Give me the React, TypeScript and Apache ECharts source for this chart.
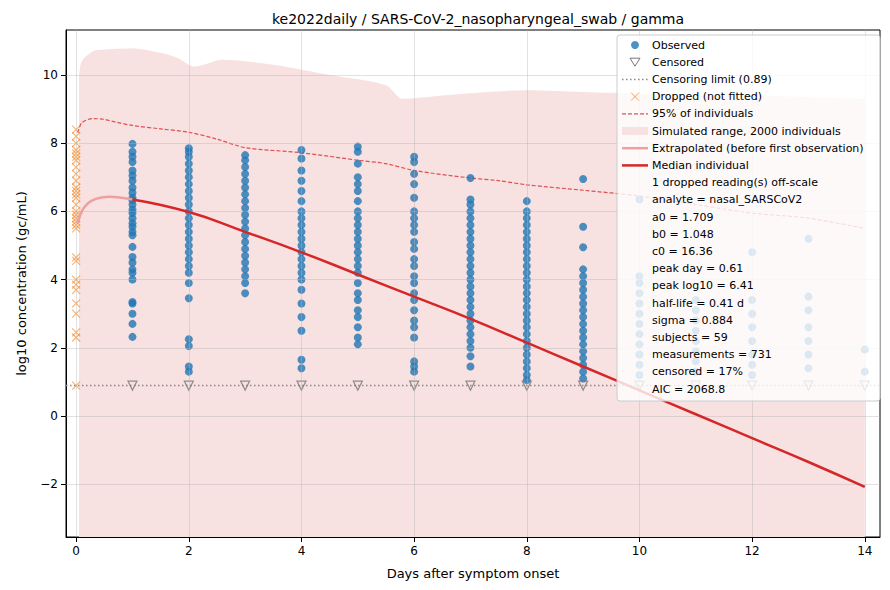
import * as echarts from 'echarts';
import { useEffect, useRef } from 'react';

const title = 'ke2022daily / SARS-CoV-2_nasopharyngeal_swab / gamma';
const censorLimit = 0.89;

const observed: number[][] = [
  [],
  [7.98, 7.75, 7.6, 7.45, 7.2, 7.05, 6.9, 6.7, 6.55, 6.4, 6.33, 6.2, 6.05, 5.95, 5.8, 5.65, 5.55, 5.4, 5.3, 4.96, 4.66, 4.5, 4.3, 4.2, 4.0, 3.34, 3.3, 3.0, 2.7, 2.32],
  [7.85, 7.75, 7.6, 7.4, 7.2, 7.0, 6.8, 6.6, 6.4, 6.2, 6.0, 5.8, 5.6, 5.4, 5.2, 5.0, 4.8, 4.6, 4.4, 4.2, 3.9, 3.45, 2.25, 2.05, 1.45, 1.3],
  [7.65, 7.5, 7.3, 7.1, 6.9, 6.7, 6.5, 6.3, 6.1, 5.9, 5.7, 5.5, 5.3, 5.1, 4.9, 4.7, 4.5, 4.3, 4.1, 3.9, 3.6],
  [7.8, 7.55, 7.2, 6.9, 6.6, 6.3, 6.0, 5.8, 5.6, 5.4, 5.2, 5.0, 4.8, 4.6, 4.4, 4.2, 4.0, 3.7, 3.3, 2.9, 2.5, 1.65, 1.4],
  [7.9, 7.75, 7.4, 7.0, 6.8, 6.6, 6.3, 6.0, 5.8, 5.6, 5.4, 5.2, 5.0, 4.8, 4.6, 4.4, 4.2, 3.9, 3.6, 3.4, 3.1, 2.9, 2.6, 2.3, 2.1],
  [7.6, 7.45, 7.1, 6.8, 6.4, 6.0, 5.8, 5.6, 5.4, 5.1, 4.9, 4.6, 4.4, 4.1, 3.9, 3.6, 3.4, 3.1, 2.8, 2.6, 2.3, 1.6, 1.45, 1.3],
  [6.98, 6.35, 6.2, 6.0, 5.8, 5.6, 5.4, 5.2, 5.0, 4.8, 4.6, 4.4, 4.2, 4.0, 3.8, 3.6, 3.4, 3.2, 3.0, 2.8, 2.6, 2.4, 2.2, 2.0, 1.75, 1.45],
  [6.3, 6.0, 5.8, 5.6, 5.4, 5.2, 5.0, 4.8, 4.6, 4.4, 4.2, 4.0, 3.8, 3.6, 3.4, 3.2, 3.0, 2.8, 2.6, 2.4, 2.2, 2.0, 1.8, 1.6, 1.4, 1.2, 1.05],
  [6.95, 5.55, 4.95, 4.3, 4.1, 3.9, 3.7, 3.5, 3.3, 3.1, 2.9, 2.7, 2.5, 2.3, 2.1, 1.9, 1.7, 1.5, 1.3, 1.1],
  [6.35, 4.1, 3.9, 3.6, 3.3, 3.0, 2.7, 2.4, 2.1, 1.8, 1.5, 1.2],
  [3.4, 3.1, 2.8, 2.5, 2.2, 1.9, 1.6, 1.3],
  [4.8, 3.4, 3.0, 2.6, 2.2, 1.8, 1.5, 1.2],
  [5.2, 3.5, 3.1, 2.6, 2.2, 1.8, 1.4],
  [1.95, 1.3],
];
const censoredDays = [1, 2, 3, 4, 5, 6, 7, 8, 9, 10, 11, 12, 13, 14];
const droppedDay0 = [8.4, 8.2, 8.0, 7.8, 7.7, 7.6, 7.5, 7.3, 7.1, 6.9, 6.7, 6.6, 6.5, 6.4, 6.2, 6.0, 5.9, 5.8, 5.7, 5.6, 5.5, 4.65, 4.55, 4.0, 3.85, 3.7, 3.3, 3.0, 2.45, 2.3, 0.89];

const extrapX = [0.03, 0.1, 0.2, 0.3, 0.45, 0.6, 0.8, 1];
const extrapY = [5.66, 6.0, 6.22, 6.33, 6.41, 6.43, 6.4, 6.35];
const medianX = [1, 2, 3, 4, 5, 6, 7, 8, 9, 10, 11, 12, 13, 14];
const medianY = [6.35, 5.98, 5.4, 4.8, 4.15, 3.5, 2.85, 2.15, 1.45, 0.75, 0.05, -0.65, -1.35, -2.08];
const p95X = [0.03, 0.1, 0.3, 0.5, 0.7, 1, 1.5, 2, 2.5, 3, 4, 5, 5.5, 6, 7, 7.5, 8, 9, 10, 11, 12, 13, 14];
const p95Y = [8.3, 8.6, 8.72, 8.7, 8.62, 8.52, 8.42, 8.32, 8.12, 7.87, 7.72, 7.5, 7.4, 7.2, 6.98, 6.9, 6.78, 6.62, 6.45, 6.2, 5.95, 5.8, 5.5];
const bandX = [0.05, 0.1, 0.3, 0.5, 1, 1.5, 1.8, 2.1, 2.6, 3.5, 4.5, 5.5, 5.8, 6.5, 8, 9, 10, 11, 12, 13, 14];
const bandY = [9.9, 10.4, 10.7, 10.75, 10.78, 10.65, 10.5, 10.25, 10.45, 10.3, 10.0, 9.7, 9.3, 9.4, 9.55, 9.5, 9.45, 9.4, 9.4, 9.35, 9.3];

const xTicks = [0, 2, 4, 6, 8, 10, 12, 14];
const yTicks = [-2, 0, 2, 4, 6, 8, 10];

const legendLines = [
  'Observed', 'Censored', 'Censoring limit (0.89)', 'Dropped (not fitted)', '95% of individuals',
  'Simulated range, 2000 individuals', 'Extrapolated (before first observation)', 'Median individual',
  '1 dropped reading(s) off-scale', 'analyte = nasal_SARSCoV2', 'a0 = 1.709', 'b0 = 1.048', 'c0 = 16.36',
  'peak day = 0.61', 'peak log10 = 6.41', 'half-life = 0.41 d', 'sigma = 0.884', 'subjects = 59',
  'measurements = 731', 'censored = 17%', 'AIC = 2068.8',
];

const FONT = 'DejaVu Sans';
const ORANGE = 'rgba(255,127,14,0.75)';

const App = () => {
  const divRef = useRef<HTMLDivElement>(null);

  useEffect(() => {
    const chart = echarts.init(divRef.current!, null, { renderer: 'svg' });

    const obsData: number[][] = [];
    observed.forEach((vals, day) => vals.forEach((v) => obsData.push([day, v])));

    const lx = 617, ly = 35, step = 17.2, tx = 652;
    const legendEls: any[] = [
      { type: 'rect', shape: { x: lx, y: ly, width: 263, height: 366, r: 3 },
        style: { fill: 'rgba(255,255,255,0.8)', stroke: '#cccccc', lineWidth: 1 }, z: 100 },
    ];
    legendLines.forEach((t, i) => {
      legendEls.push({ type: 'text', x: tx, y: ly + 10 + i * step, z: 101,
        style: { text: t, fill: '#000', font: `11px "${FONT}"`, verticalAlign: 'middle' } });
    });
    const cy = (i: number) => ly + 10 + i * step;
    legendEls.push(
      { type: 'circle', shape: { cx: 635, cy: cy(0), r: 4 }, style: { fill: 'rgba(31,119,180,0.8)' }, z: 101 },
      { type: 'polygon', shape: { points: [[630, cy(1) - 4], [640, cy(1) - 4], [635, cy(1) + 4]] }, style: { fill: 'none', stroke: '#777', lineWidth: 1 }, z: 101 },
      { type: 'line', shape: { x1: 622, y1: cy(2), x2: 648, y2: cy(2) }, style: { stroke: '#888', lineWidth: 1.5, lineDash: [1.5, 2.5] }, z: 101 },
      { type: 'line', shape: { x1: 631, y1: cy(3) - 4, x2: 639, y2: cy(3) + 4 }, style: { stroke: ORANGE, lineWidth: 1 }, z: 101 },
      { type: 'line', shape: { x1: 639, y1: cy(3) - 4, x2: 631, y2: cy(3) + 4 }, style: { stroke: ORANGE, lineWidth: 1 }, z: 101 },
      { type: 'line', shape: { x1: 622, y1: cy(4), x2: 648, y2: cy(4) }, style: { stroke: '#e05050', lineWidth: 1.2, lineDash: [4, 2] }, z: 101 },
      { type: 'rect', shape: { x: 622, y: cy(5) - 4, width: 26, height: 8 }, style: { fill: '#f8e1e1' }, z: 101 },
      { type: 'line', shape: { x1: 622, y1: cy(6), x2: 648, y2: cy(6) }, style: { stroke: '#eea0a0', lineWidth: 2.5 }, z: 101 },
      { type: 'line', shape: { x1: 622, y1: cy(7), x2: 648, y2: cy(7) }, style: { stroke: '#d62728', lineWidth: 2.5 }, z: 101 },
    );

    const vGrid = xTicks.map((v) => ({ xAxis: v }));
    const hGrid = yTicks.map((v) => ({ yAxis: v }));

    chart.setOption({
      animation: false,
      textStyle: { fontFamily: FONT },
      title: { text: title, left: 473, top: 7, textAlign: 'center',
        textStyle: { fontSize: 14, fontWeight: 'normal', color: '#000', fontFamily: FONT } },
      grid: { left: 66, right: 10, top: 30, bottom: 53, show: true, borderColor: '#000', borderWidth: 1, backgroundColor: 'transparent' },
      xAxis: {
        type: 'value', min: -0.18, max: 14.27,
        name: 'Days after symptom onset', nameLocation: 'middle', nameGap: 30,
        nameTextStyle: { fontSize: 13, color: '#000' },
        axisLine: { onZero: false, lineStyle: { color: '#000' } },
        axisTick: { customValues: xTicks, lineStyle: { color: '#000' } },
        axisLabel: { customValues: xTicks, color: '#000', fontSize: 12 },
        splitLine: { show: false },
      },
      yAxis: {
        type: 'value', min: -3.55, max: 11.32,
        name: 'log10 concentration (gc/mL)', nameLocation: 'middle', nameGap: 38,
        nameTextStyle: { fontSize: 13, color: '#000' },
        axisLine: { show: true, onZero: false, lineStyle: { color: '#000' } },
        axisTick: { show: true, customValues: yTicks, lineStyle: { color: '#000' } },
        axisLabel: { customValues: yTicks, color: '#000', fontSize: 12,
          formatter: (v: number) => (v < 0 ? '\u2212' + Math.abs(v) : String(v)) },
        splitLine: { show: false },
      },
      series: [
        {
          type: 'line', data: bandX.map((x, i) => [x, bandY[i]]), smooth: 0.3, symbol: 'none',
          lineStyle: { width: 0 }, areaStyle: { color: '#f8e1e1', opacity: 1, origin: 'start' }, z: 1,
          markLine: {
            silent: true, symbol: 'none', label: { show: false },
            lineStyle: { color: 'rgba(180,180,180,0.4)', type: 'solid', width: 1 },
            data: [...vGrid, ...hGrid],
          },
        },
        {
          type: 'line', data: [[-0.18, censorLimit], [14.27, censorLimit]], symbol: 'none',
          lineStyle: { color: '#888', width: 1.5, type: [1.5, 2.5] }, z: 2,
        },
        {
          type: 'line', data: p95X.map((x, i) => [x, p95Y[i]]), smooth: 0.3, symbol: 'none',
          lineStyle: { color: '#e05050', width: 1.2, type: [4, 2] }, z: 3,
        },
        {
          type: 'scatter', data: obsData, symbolSize: 8,
          itemStyle: { color: '#1f77b4', opacity: 0.8 }, z: 4,
        },
        {
          type: 'scatter', data: censoredDays.map((d) => [d, censorLimit]), symbol: 'triangle', symbolRotate: 180, symbolSize: 9,
          itemStyle: { color: 'rgba(255,255,255,0)', borderColor: '#777', borderWidth: 1.2 }, z: 4,
        },
        {
          type: 'scatter', data: droppedDay0.map((v) => [0, v]), symbol: 'path://M0,0L10,10M10,0L0,10', symbolSize: 8,
          itemStyle: { color: 'none', borderColor: ORANGE, borderWidth: 1.2 }, z: 4,
        },
        {
          type: 'line', data: extrapX.map((x, i) => [x, extrapY[i]]), smooth: true, symbol: 'none',
          lineStyle: { color: '#eea0a0', width: 2.5 }, z: 5,
        },
        {
          type: 'line', data: medianX.map((x, i) => [x, medianY[i]]), smooth: true, symbol: 'none',
          lineStyle: { color: '#d62728', width: 2.5 }, z: 5,
        },
      ],
      graphic: legendEls,
    });

    return () => chart.dispose();
  }, []);

  return <div ref={divRef} style={{ width: '890px', height: '590px', margin: '-8px' }} />;
};

export default App;
